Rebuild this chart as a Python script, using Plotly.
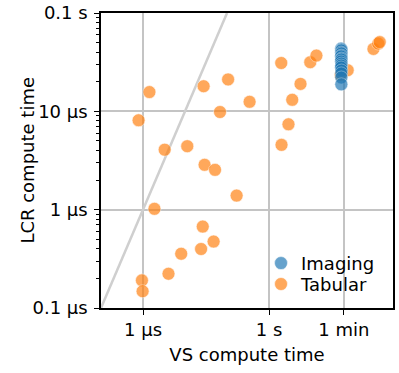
import plotly.graph_objects as go

# VS compute time (x) and LCR compute time (y), axis units as in the original plot
tabular_vs = [1.42e-6, 2.77e-5, 1.06e-4, 7.85e-7, 6.8e-5, 3.44e-4, 3.28e-6, 1.13e-5,
              2.92e-5, 5.18e-5, 1.69e-4, 1.87e-6, 2.64e-5, 4.79e-5, 2.41e-5, 8.11e-6,
              4.04e-6, 9.42e-7, 9.77e-7,
              1.95e-3, 5.61e-3, 3.56e-3, 2.90e-3, 1.98e-3, 9.57e-3, 1.34e-2, 5.06e-2,
              7.43e-2, 0.305, 0.397, 0.431]
tabular_lcr = [1.57e-5, 1.80e-5, 2.11e-5, 8.11e-6, 9.84e-6, 1.25e-5, 4.07e-6, 4.42e-6,
               2.86e-6, 2.54e-6, 1.39e-6, 1.02e-6, 6.73e-7, 4.74e-7, 3.98e-7, 3.56e-7,
               2.23e-7, 1.91e-7, 1.48e-7,
               3.10e-5, 1.90e-5, 1.31e-5, 7.38e-6, 4.56e-6, 3.16e-5, 3.69e-5, 2.35e-5,
               2.62e-5, 4.31e-5, 4.89e-5, 5.06e-5]

imaging_vs = [5.2e-2, 5.3e-2, 5.25e-2, 5.2e-2, 5.3e-2, 5.25e-2, 5.2e-2, 5.3e-2, 5.25e-2,
              5.2e-2, 5.3e-2, 5.25e-2, 5.2e-2, 5.3e-2, 5.25e-2, 5.25e-2, 5.25e-2]
imaging_lcr = [4.35e-5, 4.25e-5, 4.15e-5, 3.96e-5, 3.87e-5, 3.69e-5, 3.61e-5, 3.44e-5,
               3.36e-5, 3.21e-5, 3.06e-5, 2.92e-5, 2.79e-5, 2.60e-5, 2.43e-5, 2.21e-5,
               1.88e-5]

diag = [1e-7, 1e-4]

x_tickvals = [1e-6, 1e-3, 6e-2]
x_ticktext = ["1 µs", "1 s", "1 min"]
y_tickvals = [1e-7, 1e-6, 1e-5, 1e-4]
y_ticktext = ["0.1 µs", "1 µs", "10 µs", "0.1 s"]

BLUE = "#1f77b4"
ORANGE = "#ff7f0e"
FONT = "DejaVu Sans"

fig = go.Figure()
fig.add_trace(go.Scatter(x=diag, y=diag, mode="lines",
                         line=dict(color="#cfcfcf", width=2.5),
                         showlegend=False, hoverinfo="skip"))
fig.add_trace(go.Scatter(x=tabular_vs, y=tabular_lcr, mode="markers", name="Tabular",
                         legend="legend2",
                         marker=dict(color=ORANGE, size=13, opacity=0.68,
                                     line=dict(color="white", width=0.6))))
fig.add_trace(go.Scatter(x=imaging_vs, y=imaging_lcr, mode="markers", name="Imaging",
                         legend="legend",
                         marker=dict(color=BLUE, size=13, opacity=0.68,
                                     line=dict(color="white", width=0.5))))

axis_common = dict(showline=True, linecolor="black", linewidth=1.5, mirror=True,
                   showgrid=True, gridcolor="#c4c4c4", gridwidth=1.5,
                   ticks="outside", ticklen=5, tickwidth=1.2, tickcolor="black",
                   tickfont=dict(family=FONT, size=18, color="black"),
                   ticklabeloverflow="allow",
                   zeroline=False, tickmode="array", automargin=False)

fig.update_xaxes(type="log", range=[-7.0, -0.05], tickvals=x_tickvals, ticktext=x_ticktext,
                 title=dict(text="VS compute time", font=dict(family=FONT, size=18, color="black"),
                            standoff=9),
                 **axis_common)
fig.update_yaxes(type="log", range=[-7.0, -4.0], tickvals=y_tickvals, ticktext=y_ticktext,
                 ticklabelstandoff=3,
                 minor=dict(ticks="outside", ticklen=3, tickwidth=1, tickcolor="black",
                            dtick="D1", showgrid=False),
                 **axis_common)

fig.add_annotation(text="LCR compute time", textangle=-90, xref="paper", yref="paper",
                   x=-0.253, y=0.5, xanchor="center", yanchor="middle", showarrow=False,
                   font=dict(family=FONT, size=18, color="black"))

# white legend background that hides the gridline behind the legend entries
fig.add_shape(type="rect", xref="paper", yref="paper", x0=0.572, x1=0.928, y0=0.037, y1=0.197,
              fillcolor="white", line=dict(width=0), layer="between")

legend_common = dict(xanchor="left", yanchor="top", bgcolor="rgba(0,0,0,0)", borderwidth=0,
                     font=dict(family=FONT, size=18, color="black"),
                     itemwidth=30, tracegroupgap=0)

fig.update_layout(width=399, height=373,
                  margin=dict(l=101, r=6, t=13, b=65),
                  paper_bgcolor="white", plot_bgcolor="white",
                  font=dict(family=FONT, size=18, color="black"),
                  legend=dict(x=0.548, y=0.214, **legend_common),
                  legend2=dict(x=0.548, y=0.143, **legend_common))

fig.write_html("out.html", config={"displayModeBar": False},
               post_script="document.body.style.margin='0';document.body.style.overflow='hidden';")
